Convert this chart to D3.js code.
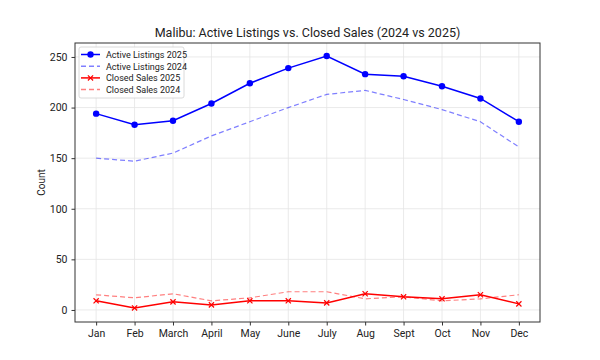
<!DOCTYPE html>
<html><head><meta charset="utf-8">
<script src="https://cdn.jsdelivr.net/npm/d3@7"></script>
<style>body{margin:0;background:#fff}text{font-family:Roboto,"Open Sans",sans-serif;fill:#222}</style>
</head><body><svg id="c" width="600" height="360"></svg>
<script>
const months = ["Jan","Feb","March","April","May","June","July","Aug","Sept","Oct","Nov","Dec"];
const active2025 = [194,183,187,204,224,239,251,233,231,221,209,186];
const active2024 = [150,147,155,172,186,200,213,217,208,198,186,161];
const closed2025 = [9,2,8,5,9,9,7,16,13,11,15,6];
const closed2024 = [15,12,16,9,12,18,18,11,13,9,11,15];
const yTicks = [0,50,100,150,200,250];

const svg = d3.select("#c");
const L=75,R=540,T=43,B=322;
const x = d3.scaleLinear().domain([-0.55,11.55]).range([L,R]);
const y = d3.scaleLinear().domain([-11.9,263.8]).range([B,T]);

// grid
svg.append("g").selectAll("line").data(months).join("line")
  .attr("x1",(d,i)=>x(i)).attr("x2",(d,i)=>x(i)).attr("y1",T).attr("y2",B)
  .attr("stroke","#e4e4e4").attr("stroke-width",0.8);
svg.append("g").selectAll("line").data(yTicks).join("line")
  .attr("x1",L).attr("x2",R).attr("y1",d=>y(d)).attr("y2",d=>y(d))
  .attr("stroke","#e4e4e4").attr("stroke-width",0.8);

// axes
const xa = svg.append("g").attr("transform",`translate(0,${B})`)
  .call(d3.axisBottom(x).tickValues(d3.range(12)).tickFormat(i=>months[i]).tickSize(3.5).tickPadding(4));
const ya = svg.append("g").attr("transform",`translate(${L},0)`)
  .call(d3.axisLeft(y).tickValues(yTicks).tickSize(3.5).tickPadding(4));
[xa,ya].forEach(a=>{a.select(".domain").remove();a.selectAll("line").attr("stroke","#333");a.selectAll("text").attr("font-size",10.5).style("font-family","Roboto,sans-serif").attr("fill","#222");});
svg.append("rect").attr("x",L).attr("y",T).attr("width",R-L).attr("height",B-T)
  .attr("fill","none").attr("stroke","#333").attr("stroke-width",1);

const line = d3.line().x((d,i)=>x(i)).y(d=>y(d));
function series(data,color,dash,width,opacity){
  svg.append("path").datum(data).attr("d",line).attr("fill","none")
    .attr("stroke",color).attr("stroke-width",width).attr("stroke-dasharray",dash||null)
    .attr("stroke-opacity",opacity);
}
series(active2024,"#0000ff","5,3",1.2,0.5);
series(closed2024,"#ff0000","5,3",1.2,0.5);
series(active2025,"#0000ff",null,1.5,1);
series(closed2025,"#ff0000",null,1.5,1);
svg.append("g").selectAll("circle").data(active2025).join("circle")
  .attr("cx",(d,i)=>x(i)).attr("cy",d=>y(d)).attr("r",3.2).attr("fill","#0000ff");
const xs=2.6;
svg.append("g").selectAll("path").data(closed2025).join("path")
  .attr("d",(d,i)=>`M${x(i)-xs},${y(d)-xs}L${x(i)+xs},${y(d)+xs}M${x(i)-xs},${y(d)+xs}L${x(i)+xs},${y(d)-xs}`)
  .attr("stroke","#ff0000").attr("stroke-width",1.2);

// title & y label
svg.append("text").attr("x",(L+R)/2).attr("y",37).attr("text-anchor","middle").attr("font-size",12.5).text("Malibu: Active Listings vs. Closed Sales (2024 vs 2025)");
svg.append("text").attr("transform",`translate(45,${(T+B)/2}) rotate(-90)`).attr("text-anchor","middle").attr("font-size",10).text("Count");

// legend
const legendItems = [
  {label:"Active Listings 2025",color:"#0000ff",dash:null,op:1,mk:"o"},
  {label:"Active Listings 2024",color:"#0000ff",dash:"5,3",op:0.5,mk:null},
  {label:"Closed Sales 2025",color:"#ff0000",dash:null,op:1,mk:"x"},
  {label:"Closed Sales 2024",color:"#ff0000",dash:"5,3",op:0.5,mk:null}
];
const lg = svg.append("g");
lg.append("rect").attr("x",79).attr("y",47).attr("width",105).attr("height",51).attr("rx",2)
  .attr("fill","#fff").attr("fill-opacity",0.85).attr("stroke","#d0d0d0").attr("stroke-width",0.8);
legendItems.forEach((it,k)=>{
  const yy=54.5+k*11.7;
  lg.append("line").attr("x1",81).attr("x2",100).attr("y1",yy).attr("y2",yy)
    .attr("stroke",it.color).attr("stroke-width",1.5).attr("stroke-opacity",it.op).attr("stroke-dasharray",it.dash);
  if(it.mk==="o") lg.append("circle").attr("cx",90.5).attr("cy",yy).attr("r",3.2).attr("fill",it.color);
  if(it.mk==="x") lg.append("path").attr("d",`M${90.5-xs},${yy-xs}L${90.5+xs},${yy+xs}M${90.5-xs},${yy+xs}L${90.5+xs},${yy-xs}`).attr("stroke",it.color).attr("stroke-width",1.2);
  lg.append("text").attr("x",106).attr("y",yy+3.3).attr("font-size",9).text(it.label);
});
</script></body></html>
